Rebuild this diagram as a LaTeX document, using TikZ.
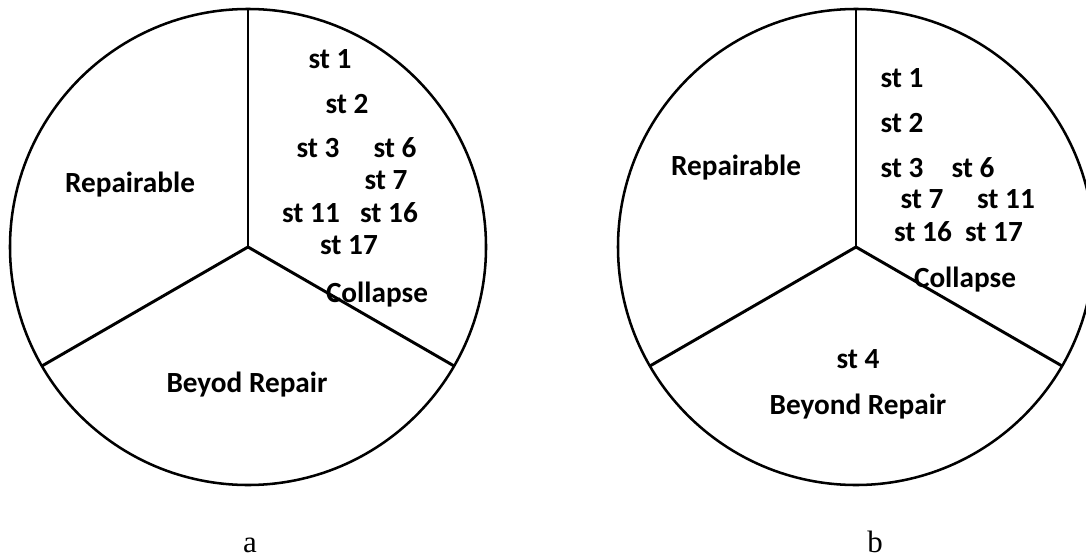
\documentclass[tikz,border=0pt]{standalone}
\usepackage{fontspec}
\setmainfont{Liberation Serif}
\newfontfamily\labelfont{Carlito}
\usetikzlibrary{calc}
\begin{document}
\begin{tikzpicture}[x=0.025cm, y=-0.025cm]

    % --- Estilos ---
    \tikzset{
        rim/.style={line width=1.8pt, draw=black},
        divider/.style={line width=2.1pt, draw=black},
        statelabel/.style={font=\labelfont\bfseries\fontsize{20.8}{24}\selectfont, inner sep=0pt, anchor=base},
        caption/.style={font=\fontsize{22}{26}\selectfont, inner sep=0pt, anchor=base}
    }

    \useasboundingbox (0,0) rectangle (1086,559);
    \clip (0,0) rectangle (1086,559);

    % --- Circulo a ---
    \coordinate (ca) at (248,247);
    \draw [rim] (ca) circle [radius=238];
    \coordinate (ca top) at ($(ca)+(270:238)$);
    \coordinate (ca left) at ($(ca)+(150:238)$);
    \coordinate (ca right) at ($(ca)+(30:238)$);
    \draw [divider] (ca) -- (ca top);
    \draw [divider] (ca) -- (ca left);
    \draw [divider] (ca) -- (ca right);

    \node (a-st1) [statelabel] at (330,68) {st 1};
    \node (a-st2) [statelabel] at (347,113) {st 2};
    \node (a-st3) [statelabel] at (318,157) {st 3};
    \node (a-st6) [statelabel] at (395,157) {st 6};
    \node (a-st7) [statelabel] at (386,189) {st 7};
    \node (a-st11) [statelabel] at (311,222) {st 11};
    \node (a-st16) [statelabel] at (389,222) {st 16};
    \node (a-st17) [statelabel] at (349,254) {st 17};
    \node (a-collapse) [statelabel] at (377,302) {Collapse};
    \node (a-repairable) [statelabel] at (130,192) {Repairable};
    \node (a-beyond) [statelabel] at (247,392) {Beyod Repair};
    \node (a-caption) [caption] at (250,552) {a};

    % --- Circulo b ---
    \coordinate (cb) at (856,247);
    \draw [rim] (cb) circle [radius=238];
    \coordinate (cb top) at ($(cb)+(270:238)$);
    \coordinate (cb left) at ($(cb)+(150:238)$);
    \coordinate (cb right) at ($(cb)+(30:238)$);
    \draw [divider] (cb) -- (cb top);
    \draw [divider] (cb) -- (cb left);
    \draw [divider] (cb) -- (cb right);

    \node (b-st1) [statelabel] at (902,87) {st 1};
    \node (b-st2) [statelabel] at (902,132) {st 2};
    \node (b-st3) [statelabel] at (902,177) {st 3};
    \node (b-st6) [statelabel] at (973,177) {st 6};
    \node (b-st7) [statelabel] at (922,208) {st 7};
    \node (b-st11) [statelabel] at (1006,208) {st 11};
    \node (b-st16) [statelabel] at (923,241) {st 16};
    \node (b-st17) [statelabel] at (994,241) {st 17};
    \node (b-collapse) [statelabel] at (965,287) {Collapse};
    \node (b-repairable) [statelabel] at (736,175) {Repairable};
    \node (b-st4) [statelabel] at (858,368) {st 4};
    \node (b-beyond) [statelabel] at (858,414) {Beyond Repair};
    \node (b-caption) [caption] at (875,552) {b};

\end{tikzpicture}
\end{document}
